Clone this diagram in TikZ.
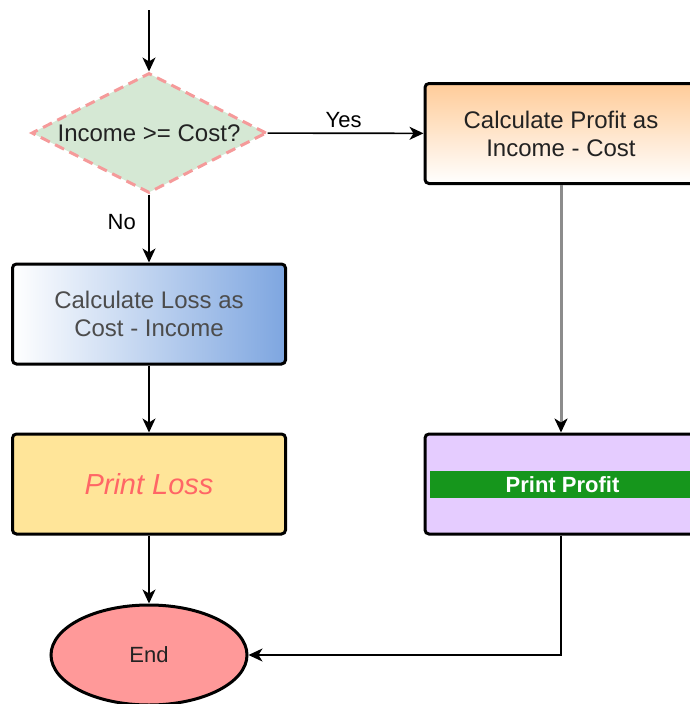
\documentclass[tikz,border=0pt]{standalone}
\usepackage{fontspec}
\setmainfont{Liberation Sans}
\usetikzlibrary{positioning,shapes.geometric,arrows.meta}

\definecolor{decisionfill}{HTML}{D5E8D4}
\definecolor{decisionline}{HTML}{F59A9A}
\definecolor{profittop}{HTML}{FFCC99}
\definecolor{lossright}{HTML}{7EA6E0}
\definecolor{printlossfill}{HTML}{FFE599}
\definecolor{printlosstext}{HTML}{FF6666}
\definecolor{printprofitfill}{HTML}{E5CCFF}
\definecolor{bandgreen}{HTML}{16961C}
\definecolor{endfill}{HTML}{FF9999}
\definecolor{textdark}{HTML}{222222}

\begin{document}
\begin{tikzpicture}[
    x=1pt, y=-1pt,
    box/.style={rectangle,rounded corners=4pt,draw,line width=3pt,minimum width=273pt,minimum height=100pt,inner sep=0pt,align=center,text=textdark},
    arrow/.style={-{Stealth[length=14pt,width=13pt,inset=4pt]},line width=1.6pt},
    font=\fontsize{24}{28}\selectfont
    ]

    \useasboundingbox (0,0) rectangle (690,704);

    % decision:
    \coordinate (start) at (149,10);
    \node (check) at (149,133) [diamond,aspect=1.96,minimum width=235pt,minimum height=120pt,inner sep=0pt,
      fill=decisionfill,draw=decisionline,line width=3pt,dash pattern=on 10pt off 6pt,text=textdark] {Income >= Cost?};

    % left branch:
    \node (loss) at (149,314) [box,left color=white,right color=lossright,text=black!70] {Calculate Loss as\\Cost - Income};
    \node (printloss) at (149,484) [box,fill=printlossfill,text=printlosstext,font=\fontsize{29}{33}\selectfont\itshape] {Print Loss};
    \node (end) at (149,655) [ellipse,draw,line width=3pt,fill=endfill,minimum width=196pt,minimum height=100pt,inner sep=0pt,
      text=textdark,font=\fontsize{22}{26}\selectfont] {End};

    % right branch:
    \node (profit) at (561,133.5) [box,minimum width=272pt,top color=profittop,bottom color=white] {Calculate Profit as\\Income - Cost};
    \node (printprofit) at (561,484) [box,minimum width=272pt,fill=printprofitfill] {};
    \node (band) at (562.5,484.5) [rectangle,fill=bandgreen,minimum width=265pt,minimum height=27pt,inner sep=0pt,
      text=white,font=\fontsize{22}{26}\selectfont\bfseries] {Print Profit};

    % connections:
    \draw [arrow] (start) -- (check);
    \draw [arrow] (check) -- node [above=1pt,xshift=-2pt,font=\fontsize{22}{26}\selectfont] {Yes} (profit);
    \draw [arrow] (check) -- node [pos=0.4,left=9pt,font=\fontsize{22}{26}\selectfont] {No} (loss);
    \draw [arrow] (loss) -- (printloss);
    \draw [arrow] (printloss) -- (end);
    \draw [-{Stealth[length=14pt,width=13pt,inset=4pt,color=black]},line width=3pt,draw=black!45] (profit) -- (printprofit);
    \draw [arrow] (printprofit) |- (end);

\end{tikzpicture}
\end{document}
